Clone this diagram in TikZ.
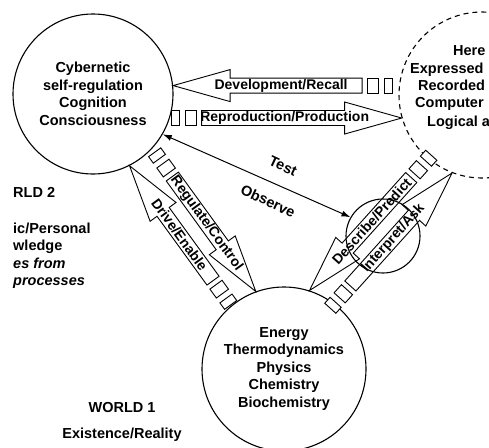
\documentclass[tikz,border=0pt]{standalone}
\usepackage{fontspec}
\setmainfont{Liberation Sans}
\usetikzlibrary{arrows.meta}
\tikzset{
  world/.style={circle, draw, line width=1.1pt, minimum size=#1, inner sep=0pt, align=center,
    font=\bfseries\fontsize{14.5}{17.5}\selectfont},
  barrow/.style={draw, line width=0.9pt, fill=white, line join=miter},
  atext/.style={font=\bfseries\fontsize{14}{15}\selectfont, inner sep=0pt},
  lbl/.style={font=\bfseries\fontsize{14.5}{17.5}\selectfont, inner sep=0pt},
}
\newcommand\blockarrow[7]{%
  \begin{scope}[shift={(#2)}, rotate=#3]
    \draw[barrow] (0,0) -- (57,16) -- (57,7.5) -- ({57+#4},7.5) -- ({57+#4},-7.5) -- (57,-7.5) -- (57,-16) -- cycle;
    \draw[barrow] ({62+#4},-7.5) rectangle ({73+#4},7.5);
    \draw[barrow] ({79+#4},-7.5) rectangle ({87+#4},7.5);
    \node[atext, rotate=#6] (#1) at (#5,0) {#7};
  \end{scope}}
\begin{document}
\begin{tikzpicture}[x=1pt,y=-1pt]
\useasboundingbox (0,0) rectangle (489,447);
\clip (0,0) rectangle (489,447);
\fill[white] (0,0) rectangle (489,447);

% worlds
\node[world=160pt] (c2) at (93,94) {Cybernetic\\self-regulation\\Cognition\\Consciousness};
\node[world=166pt, dash pattern=on 5pt off 4pt] (c3) at (482,95) {};
\node[world=164pt] (c1) at (284,369) {Energy\\Thermodynamics\\Physics\\Chemistry\\Biochemistry};

% texts in dashed world
\node[lbl, anchor=base west] (t1) at (453,55) {Here};
\node[lbl, anchor=base west] (t2) at (410,73) {Expressed};
\node[lbl, anchor=base west] (t3) at (418,90) {Recorded};
\node[lbl, anchor=base west] (t4) at (415,107) {Computer};
\node[lbl, anchor=base west] (t5) at (427,126) {Logical a};

% block arrows
\blockarrow{a1}{c2.6.4}{0}{132}{108}{0}{Development/Recall}
\blockarrow{a2}{c3.196}{180}{143}{117}{0}{Reproduction/Production}
\blockarrow{a3}{c2.-63}{-54}{85}{85}{-54}{Drive/Enable}
\blockarrow{a4}{c1.110}{126}{85}{84}{-54}{Regulate/Control}
\blockarrow{a5}{c1.72}{48}{95}{93}{48}{Describe/Predict}
\blockarrow{a6}{c3.249}{-132}{95}{88}{48}{Interpret/Ask}

% small circle and test line
\node[circle, draw, line width=1.1pt, minimum size=74pt, inner sep=0pt] (sm) at (383,236) {};
\draw[line width=1pt, {Latex[length=9pt,width=6pt]}-{Latex[length=9pt,width=6pt]}] (c2.-30) -- (sm.150);
\node[lbl, rotate=-25] (test) at (283,166) {Test};
\node[lbl, rotate=-25] (obs) at (268,201) {Observe};

% left labels
\node[lbl, anchor=base west] (w2) at (13,197) {RLD 2};
\node[lbl, anchor=base west] (l1) at (13,233) {ic/Personal};
\node[lbl, anchor=base west] (l2) at (13,250) {wledge};
\node[lbl, anchor=base west, font=\bfseries\itshape\fontsize{14.5}{17.5}\selectfont] (l3) at (13,268) {es from};
\node[lbl, anchor=base west, font=\bfseries\itshape\fontsize{14.5}{17.5}\selectfont] (l4) at (13,285) {processes};

% world 1
\node[lbl] (w1) at (122,408) {WORLD 1};
\node[lbl] (ex) at (122,435) {Existence/Reality};
\end{tikzpicture}
\end{document}
